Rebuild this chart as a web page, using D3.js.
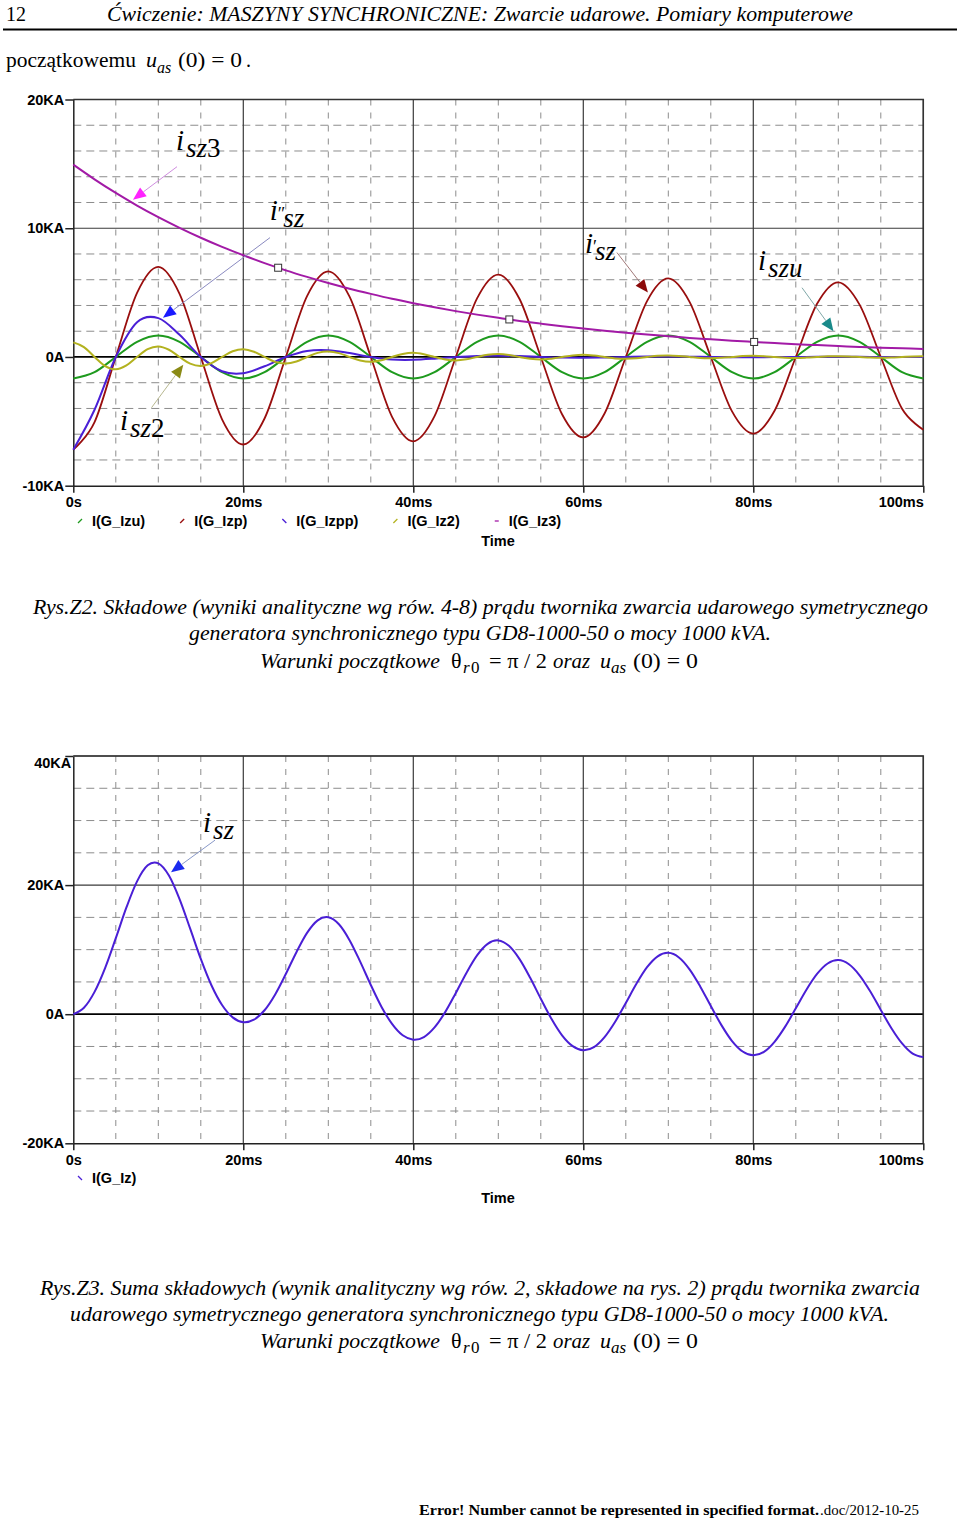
<!DOCTYPE html>
<html><head><meta charset="utf-8">
<script src="https://cdn.jsdelivr.net/npm/d3@7"></script>
<style>body{margin:0;background:#fff}svg{display:block}</style>
</head><body>
<svg id="c" width="960" height="1519"></svg>
<script>
// ---------- DATA ----------
const xTicks = [0, 20, 40, 60, 80, 100];
const y1Ticks = [-10, 0, 10, 20];
const y2Ticks = [-20, 0, 20, 40];

const timeCoarse = [0,2.5,5,7.5,10,12.5,15,17.5,20,22.5,25,27.5,30,32.5,35,37.5,40,42.5,45,47.5,50,52.5,55,57.5,60,62.5,65,67.5,70,72.5,75,77.5,80,82.5,85,87.5,90,92.5,95,97.5,100];
const timeFine = [0,1.25,2.5,3.75,5,6.25,7.5,8.75,10,11.25,12.5,13.75,15,16.25,17.5,18.75,20,21.25,22.5,23.75,25,26.25,27.5,28.75,30,31.25,32.5,33.75,35,36.25,37.5,38.75,40,41.25,42.5,43.75,45,46.25,47.5,48.75,50,51.25,52.5,53.75,55,56.25,57.5,58.75,60,61.25,62.5,63.75,65,66.25,67.5,68.75,70,71.25,72.5,73.75,75,76.25,77.5,78.75,80,81.25,82.5,83.75,85,86.25,87.5,88.75,90,91.25,92.5,93.75,95,96.25,97.5,98.75,100];

// Chart 1 components (KA)
const izu = [-1.67,-1.18,0,1.18,1.67,1.18,0,-1.18,-1.67,-1.18,0,1.18,1.67,1.18,0,-1.18,-1.67,-1.18,0,1.18,1.67,1.18,0,-1.18,-1.67,-1.18,0,1.18,1.67,1.18,0,-1.18,-1.67,-1.18,0,1.18,1.67,1.18,0,-1.18,-1.67];
const izp = [-7.2,-5.06,0,4.98,7.0,4.91,0,-4.84,-6.8,-4.78,0,4.73,6.65,4.68,0,-4.65,-6.55,-4.6,0,4.55,6.4,4.5,0,-4.45,-6.25,-4.39,0,4.34,6.1,4.28,0,-4.23,-5.95,-4.18,0,4.13,5.8,4.07,0,-4.02,-5.65];
const izpp = [-7.2,-4.1,0,2.7,3.02,1.72,0,-1.11,-1.26,-0.72,0,0.47,0.53,0.3,0,-0.2,-0.22,-0.13,0,0.08,0.09,0.07,0,-0.05,-0.06,-0.04,0,0.03,0.04,0.02,0,-0.02,-0.02,-0.01,0,0.01,0.01,0.01,0,0,0];
const iz2 = [1.13,0.77,0,-0.71,-0.96,-0.66,0,0.61,0.82,0.56,0,-0.52,-0.70,-0.48,0,0.44,0.60,0.41,0,-0.38,-0.51,-0.35,0,0.32,0.43,0.30,0,-0.27,-0.37,-0.25,0,0.23,0.32,0.21,0,-0.20,-0.27,-0.18,0,0.17,0.23,0.16,0,-0.14,-0.20,-0.13,0,0.12,0.17,0.11,0,-0.11,-0.14,-0.10,0,0.09,0.12,0.08,0,-0.08,-0.10,-0.07,0,0.07,0.09,0.06,0,-0.06,-0.08,-0.05,0,0.05,0.06,0.04,0,-0.04,-0.06,-0.04,0,0.04,0.05];
const iz3 = [14.94,13.8,12.74,11.76,10.86,10.03,9.26,8.55,7.9,7.29,6.73,6.22,5.74,5.3,4.9,4.52,4.18,3.86,3.56,3.29,3.04,2.8,2.59,2.39,2.21,2.04,1.88,1.74,1.61,1.48,1.37,1.26,1.17,1.08,0.99,0.92,0.85,0.78,0.72,0.67,0.62];
const iz3Markers = [24.1, 51.3, 80.1];

// Chart 2 total current (KA)
const iz = [0,0.99,3.46,7.19,11.78,16.54,20.58,23.06,23.37,21.49,17.84,13.25,8.56,4.48,1.42,-0.49,-1.23,-0.85,0.61,3.06,6.22,9.61,12.6,14.54,15.02,13.93,11.47,8.14,4.53,1.17,-1.5,-3.27,-3.94,-3.54,-2.05,0.32,3.29,6.4,9.11,10.9,11.43,10.59,8.53,5.64,2.39,-0.71,-3.27,-4.95,-5.58,-5.1,-3.55,-1.17,1.74,4.71,7.28,8.97,9.51,8.79,6.95,4.31,1.27,-1.69,-4.16,-5.78,-6.37,-5.84,-4.28,-1.93,0.91,3.79,6.23,7.85,8.38,7.73,6.03,3.55,0.66,-2.17,-4.53,-6.11,-6.65];

const legend1 = ["I(G_Izu)", "I(G_Izp)", "I(G_Izpp)", "I(G_Iz2)", "I(G_Iz3)"];
const legend2 = ["I(G_Iz)"];

// ---------- STYLE ----------
const serif = "'Liberation Serif','Times New Roman',serif";
const sans = "'Liberation Sans',Arial,sans-serif";
const C = {green:"#1e9a1e", red:"#990e0e", blue:"#4a1fd6", olive:"#b3b21f", mag:"#a21aa6"};

const svg = d3.select("#c");
const x = d3.scaleLinear().domain([0,100]).range([73.3,923.3]);
const y1 = d3.scaleLinear().domain([-10,20]).range([485.7,99.5]);
const y2 = d3.scaleLinear().domain([-20,40]).range([1143.3,756]);

function txt(px, py, s, o) {
  o = o || {};
  const t = svg.append("text").attr("x", px).attr("y", py)
    .attr("font-family", o.family || serif)
    .attr("font-size", o.size || 20)
    .attr("font-style", o.italic ? "italic" : "normal")
    .attr("font-weight", o.bold ? "bold" : "normal")
    .attr("fill", "#000").text(s);
  if (o.len) t.attr("textLength", o.len).attr("lengthAdjust", "spacingAndGlyphs");
  if (o.anchor) t.attr("text-anchor", o.anchor);
  return t;
}

// ---------- PAGE TEXT ----------
txt(6, 21, "12", {size:20});
txt(107, 21, "Ćwiczenie: MASZYNY SYNCHRONICZNE: Zwarcie udarowe. Pomiary komputerowe", {size:21, italic:true, len:746});
svg.append("line").attr("x1",3).attr("x2",957).attr("y1",29.5).attr("y2",29.5).attr("stroke","#000").attr("stroke-width",2);

txt(6, 67, "początkowemu", {size:20, len:130});
txt(146, 67, "u", {size:22, italic:true});
txt(157, 73, "as", {size:16, italic:true});
txt(178, 67, "(0) = 0", {size:21, len:64});
txt(246, 67, ".", {size:20});

function eqLine(b) {
  txt(260, b, "Warunki początkowe", {size:20, italic:true, len:180});
  txt(451, b, "θ", {size:22});
  txt(463, b+5, "r", {size:17, italic:true});
  txt(471, b+5, "0", {size:17});
  txt(489, b, "= π / 2", {size:21, len:58});
  txt(553, b, "oraz", {size:20, italic:true, len:37});
  txt(600, b, "u", {size:22, italic:true});
  txt(611, b+5, "as", {size:17, italic:true});
  txt(633, b, "(0) = 0", {size:21, len:65});
}
txt(33, 614, "Rys.Z2. Składowe (wyniki analityczne wg rów. 4-8) prądu twornika zwarcia udarowego symetrycznego", {size:20, italic:true, len:895});
txt(189, 640, "generatora synchronicznego typu GD8-1000-50 o mocy 1000 kVA.", {size:20, italic:true, len:582});
eqLine(668);
txt(40, 1295, "Rys.Z3. Suma składowych (wynik analityczny wg rów. 2, składowe na rys. 2) prądu twornika zwarcia", {size:20, italic:true, len:880});
txt(70, 1321, "udarowego symetrycznego generatora synchronicznego typu GD8-1000-50 o mocy 1000 kVA.", {size:20, italic:true, len:819});
eqLine(1348);

txt(419, 1515, "Error! Number cannot be represented in specified format.", {size:15, bold:true, len:400});
txt(820, 1515, ".doc/2012-10-25", {size:15, len:99});

// ---------- CHART ----------
const fmtX = v => v === 0 ? "0s" : v + "ms";
const fmtY = v => v === 0 ? "0A" : v + "KA";

function chart(y, yTicks, yMinorStep) {
  const g = svg.append("g");
  const [lo, hi] = y.domain();
  const xMinor = d3.range(0, 100, 5).filter(v => v % 20 !== 0);
  const yMinor = d3.range(lo, hi, yMinorStep).filter(v => !yTicks.includes(v));
  const [xl, xr] = x.range(), [yb, yt] = y.range();
  g.selectAll(".mh").data(yMinor).join("line")
    .attr("x1", xl).attr("x2", xr).attr("y1", d => y(d)).attr("y2", d => y(d))
    .attr("stroke", "#8c8c8c").attr("stroke-width", 1).attr("stroke-dasharray", "8,5");
  g.selectAll(".mv").data(xMinor).join("line")
    .attr("x1", d => x(d)).attr("x2", d => x(d)).attr("y1", yt).attr("y2", yb)
    .attr("stroke", "#8c8c8c").attr("stroke-width", 1).attr("stroke-dasharray", "6,7");
  g.selectAll(".Mv").data(xTicks.slice(1)).join("line")
    .attr("x1", d => x(d)).attr("x2", d => x(d)).attr("y1", yt).attr("y2", yb)
    .attr("stroke", "#3a3a3a").attr("stroke-width", 1.2);
  g.selectAll(".Mh").data(yTicks.slice(1)).join("line")
    .attr("x1", xl).attr("x2", xr).attr("y1", d => y(d)).attr("y2", d => y(d))
    .attr("stroke", d => d === 0 ? "#000" : "#3a3a3a").attr("stroke-width", d => d === 0 ? 1.7 : 1.2);
  const ax = g.append("g").attr("transform", `translate(${xl},0)`)
    .call(d3.axisLeft(y).tickValues(yTicks).tickSize(8).tickPadding(1).tickSizeOuter(0).tickFormat(fmtY));
  const bx = g.append("g").attr("transform", `translate(0,${yb})`)
    .call(d3.axisBottom(x).tickValues(xTicks).tickSize(7).tickPadding(4).tickSizeOuter(0).tickFormat(fmtX));
  [ax, bx].forEach(a => {
    a.selectAll("path,line").attr("stroke", "#222").attr("stroke-width", 1.5);
    a.selectAll("text").attr("font-family", sans).attr("font-weight", "bold")
      .attr("font-size", 14.5).attr("fill", "#000");
  });
  bx.selectAll(".tick").filter(d => d === 100).select("text").attr("text-anchor", "end");
  g.append("path").attr("d", `M${xl},${yt}H${xr}V${yb}`).attr("fill", "none")
    .attr("stroke", "#333").attr("stroke-width", 1.5);
  return {g, ax, bx};
}

const lineGen = y => d3.line().x(d => x(d[0])).y(d => y(d[1])).curve(d3.curveCatmullRom.alpha(0));
function series(g, y, ts, vs, color, w) {
  g.append("path").datum(ts.map((t, i) => [t, vs[i]]))
    .attr("d", lineGen(y)).attr("fill", "none").attr("stroke", color)
    .attr("stroke-width", w).attr("stroke-linejoin", "round");
}

function legend(names, colors, glyphs, yb) {
  let cx = 92;
  names.forEach((n, i) => {
    const t = txt(cx, yb, n, {family:sans, bold:true, size:14.5});
    const gx = cx - 12, gy = yb - 5;
    const gl = glyphs[i];
    svg.append("line").attr("x1", gx - 2).attr("x2", gx + 2)
      .attr("y1", gy + gl * 2).attr("y2", gy - gl * 2)
      .attr("stroke", colors[i]).attr("stroke-width", 1.3);
    cx += t.node().getComputedTextLength() + 49;
  });
}

function arrowHead(g, x1, yy1, x2, yy2, color) {
  const a = Math.atan2(yy2 - yy1, x2 - x1), L = 13, W = 5.5;
  const bx = x2 - L * Math.cos(a), by = yy2 - L * Math.sin(a);
  const px = -Math.sin(a) * W, py = Math.cos(a) * W;
  g.append("path").attr("d", `M${x2},${yy2}L${bx + px},${by + py}L${bx - px},${by - py}Z`).attr("fill", color);
  return [bx, by];
}

function anno(g, y, a) {
  const px = x(a.t), py = y(a.v);
  const t = g.append("text").attr("font-family", serif).attr("fill", "#000")
    .attr("x", px).attr("y", py);
  t.append("tspan").attr("font-size", 29).attr("font-style", "italic").text("i");
  if (a.prime) t.append("tspan").attr("font-size", 18).attr("dx", 0).text(a.prime);
  a.sub.forEach((p, i) => {
    const s = t.append("tspan").attr("font-size", 27).attr("font-style", p[1] ? "italic" : "normal").text(p[0]);
    if (i === 0) {
      s.attr("dy", 7);
      if (a.prime) s.attr("dx", -2); else s.attr("x", px + 10);
    }
  });
  const x1 = x(a.a[0]), yy1 = y(a.a[1]), x2 = x(a.a[2]), yy2 = y(a.a[3]);
  const [bx, by] = arrowHead(g, x1, yy1, x2, yy2, a.head);
  g.append("line").attr("x1", x1).attr("y1", yy1).attr("x2", bx).attr("y2", by)
    .attr("stroke", a.line).attr("stroke-width", 1);
}

// Chart 1
const c1 = chart(y1, y1Ticks, 2);
series(c1.g, y1, timeCoarse, izu, C.green, 2);
series(c1.g, y1, timeCoarse, izp, C.red, 1.8);
series(c1.g, y1, timeCoarse, izpp, C.blue, 2);
series(c1.g, y1, timeFine, iz2, C.olive, 2);
series(c1.g, y1, timeCoarse, iz3, C.mag, 2);
const iz3At = d3.scaleLinear().domain(timeCoarse).range(iz3);
c1.g.selectAll(".mk").data(iz3Markers).join("rect")
  .attr("x", d => x(d) - 3.5).attr("y", d => y1(iz3At(d)) - 3.5).attr("width", 7).attr("height", 7)
  .attr("fill", "#fff").attr("stroke", "#333").attr("stroke-width", 1);
legend(legend1, [C.green, C.red, C.blue, C.olive, C.mag], [1, 1, -1, 1, 0], 526);
txt(498, 546, "Time", {family:sans, bold:true, size:14.5, anchor:"middle"});

anno(c1.g, y1, {t:12.08, v:16.11, sub:[["sz",1],["3",0]], a:[12.2,14.78,7.02,12.22], line:"#d08ce0", head:"#ff22ff"});
anno(c1.g, y1, {t:23.1, v:10.67, prime:"″", sub:[["sz",1]], a:[23.14,9.27,10.55,3.05], line:"#8a8ac0", head:"#1a1aff"});
anno(c1.g, y1, {t:60.2, v:8.11, prime:"′", sub:[["sz",1]], a:[63.96,8.11,67.6,5.0], line:"#a07878", head:"#8b0a0a"});
anno(c1.g, y1, {t:80.55, v:6.78, sub:[["szu",1]], a:[85.73,5.38,89.43,2.0], line:"#80a8a8", head:"#1a8a8a"});
anno(c1.g, y1, {t:5.49, v:-5.65, sub:[["sz",1],["2",0]], a:[9.2,-3.94,12.94,-0.6], line:"#b8b890", head:"#8a8a14"});

// Chart 2
const c2 = chart(y2, y2Ticks, 5);
series(c2.g, y2, timeFine, iz, C.blue, 2);
c2.ax.selectAll(".tick").filter(d => d === 40).select("text").attr("x", -2).attr("dy", "0.8em");
legend(legend2, [C.blue], [-1], 1183);
txt(498, 1203, "Time", {family:sans, bold:true, size:14.5, anchor:"middle"});
anno(c2.g, y2, {t:15.26, v:28.19, sub:[["sz",1]], a:[16.67,26.96,11.5,22.0], line:"#8898c8", head:"#1a2aee"});
</script>
</body></html>
